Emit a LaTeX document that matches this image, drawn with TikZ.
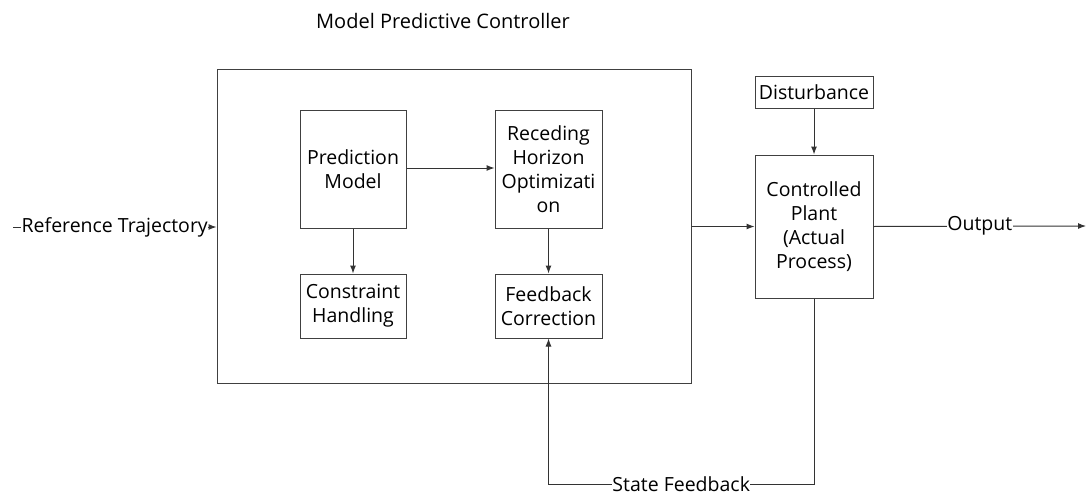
\documentclass[tikz,border=0pt]{standalone}
\usepackage{fontspec}
\setmainfont{Open Sans}
\usetikzlibrary{arrows.meta}
\begin{document}
\begin{tikzpicture}[x=1pt,y=-1pt,
  blk/.style={draw=black!75, line width=1pt, fill=white, align=center, inner sep=0pt, font=\fontsize{19.5}{24}\selectfont},
  lbl/.style={fill=white, inner sep=0.5pt, font=\fontsize{19.5}{24}\selectfont},
  conn/.style={draw=black!80, line width=1pt},
  arr/.style={conn, -{Latex[length=8pt,width=6pt]}}]
\useasboundingbox (0,0) rectangle (1086,495);
\node[font=\fontsize{20}{24}\selectfont] (title) at (443,21) {Model Predictive Controller};
\node[blk, minimum width=474pt, minimum height=314pt] (mpc) at (454,226) {};
\node[blk, minimum width=106pt, minimum height=118pt] (pm) at (353,169) {Prediction\\Model};
\node[blk, minimum width=107pt, minimum height=118pt] (rh) at (548.5,169) {Receding\\Horizon\\Optimizati\\on};
\node[blk, minimum width=106pt, minimum height=64pt] (ch) at (353,306) {Constraint\\Handling};
\node[blk, minimum width=107pt, minimum height=64pt] (fc) at (548.5,306) {Feedback\\Correction};
\node[blk, minimum width=118pt, minimum height=32pt] (dist) at (814,92) {Disturbance};
\node[blk, minimum width=118pt, minimum height=143pt] (plant) at (814,226.5) {Controlled\\Plant\\(Actual\\Process)};
\coordinate (rin) at (13,227);
\coordinate (rout) at (1086,226);
\coordinate (sfr) at (814,484);
\coordinate (sfl) at (548.5,484);
\draw[arr] (rin) -- node[lbl] (reflbl) {Reference Trajectory} (mpc.west |- rin);
\draw[arr] (pm.east |- 0,168) -- (rh.west |- 0,168);
\draw[arr] (pm.south) -- (ch.north);
\draw[arr] (rh.south) -- (fc.north);
\draw[arr] (mpc.east |- plant.west) -- (plant.west);
\draw[arr] (dist.south) -- (plant.north);
\draw[arr] (plant.east) -- node[lbl] (outlbl) {Output} (rout);
\draw[arr] (plant.south) -- (sfr) -- node[lbl, inner sep=0pt] (sflbl) {State Feedback} (sfl) -- (fc.south);
\end{tikzpicture}
\end{document}
